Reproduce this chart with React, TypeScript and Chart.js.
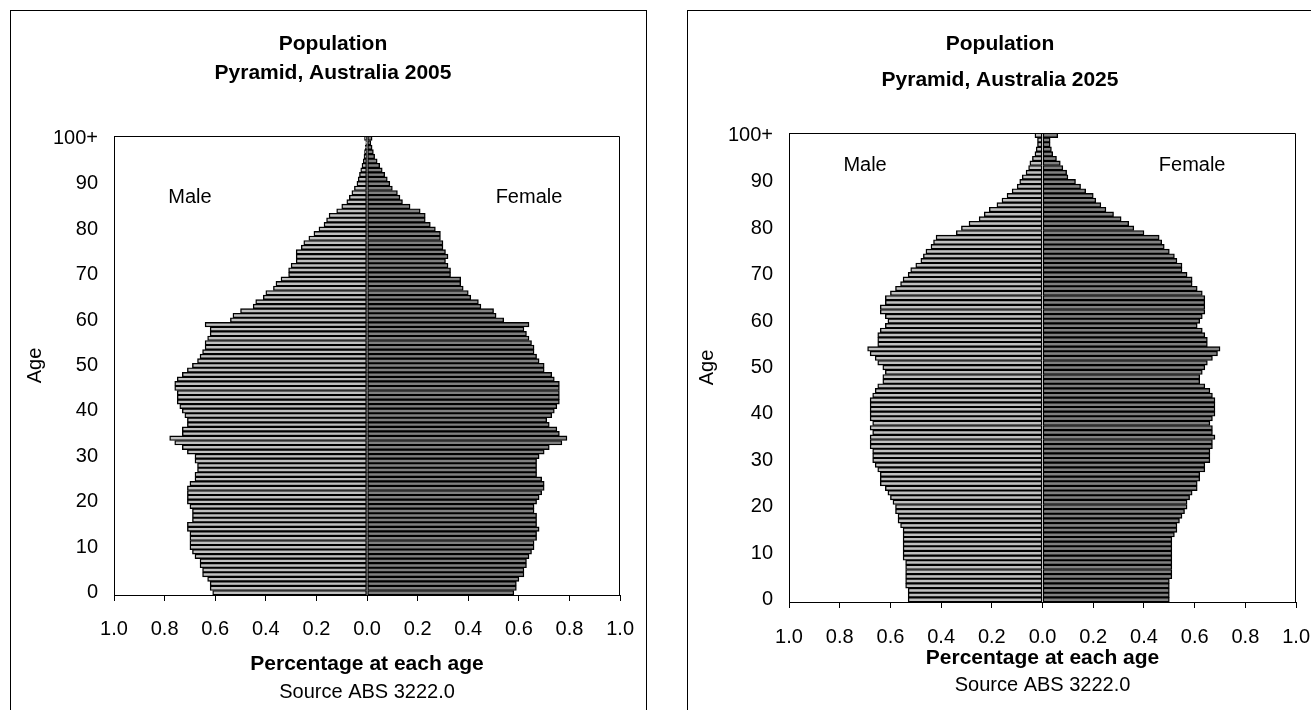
import React, { useEffect, useRef } from 'react';
import { Chart, registerables } from 'chart.js';

Chart.register(...registerables);
Chart.defaults.font.family = 'Arial, "Liberation Sans", sans-serif';
Chart.defaults.color = '#000';

// Age categories 0..99 and "100+"
const AGE_LABELS: string[] = Array.from({ length: 101 }, (_, i) => (i === 100 ? '100+' : String(i)));

// Percentage of population at each single year of age (ages 0 .. 100+)
const MALE_2005 = [
  0.61, 0.62, 0.62, 0.63, 0.65, 0.65, 0.66, 0.66, 0.68, 0.69,
  0.70, 0.70, 0.70, 0.70, 0.71, 0.71, 0.69, 0.69, 0.69, 0.70,
  0.71, 0.71, 0.71, 0.71, 0.70, 0.68, 0.68, 0.67, 0.67, 0.68,
  0.68, 0.71, 0.73, 0.76, 0.78, 0.73, 0.73, 0.71, 0.71, 0.72,
  0.73, 0.74, 0.75, 0.75, 0.75, 0.76, 0.76, 0.75, 0.73, 0.71,
  0.69, 0.67, 0.66, 0.65, 0.64, 0.64, 0.63, 0.62, 0.62, 0.64,
  0.54, 0.53, 0.50, 0.45, 0.44, 0.41, 0.40, 0.37, 0.36, 0.34,
  0.31, 0.31, 0.30, 0.28, 0.28, 0.28, 0.26, 0.25, 0.23, 0.21,
  0.19, 0.17, 0.16, 0.15, 0.12, 0.10, 0.08, 0.07, 0.06, 0.05,
  0.04, 0.035, 0.03, 0.025, 0.02, 0.015, 0.012, 0.01, 0.007, 0.005,
  0.01,
];
const FEMALE_2005 = [
  0.58, 0.59, 0.59, 0.60, 0.62, 0.62, 0.63, 0.63, 0.64, 0.65,
  0.66, 0.66, 0.67, 0.67, 0.68, 0.67, 0.67, 0.67, 0.66, 0.66,
  0.67, 0.68, 0.69, 0.70, 0.70, 0.69, 0.67, 0.67, 0.67, 0.67,
  0.68, 0.70, 0.72, 0.77, 0.79, 0.76, 0.75, 0.72, 0.71, 0.73,
  0.74, 0.75, 0.76, 0.76, 0.76, 0.76, 0.76, 0.74, 0.73, 0.70,
  0.70, 0.68, 0.67, 0.66, 0.66, 0.65, 0.64, 0.63, 0.62, 0.64,
  0.54, 0.51, 0.50, 0.45, 0.44, 0.41, 0.40, 0.38, 0.37, 0.37,
  0.33, 0.33, 0.32, 0.31, 0.32, 0.31, 0.30, 0.30, 0.29, 0.29,
  0.27, 0.25, 0.23, 0.23, 0.21, 0.17, 0.14, 0.13, 0.12, 0.10,
  0.09, 0.08, 0.07, 0.06, 0.05, 0.04, 0.03, 0.025, 0.02, 0.015,
  0.02,
];
const MALE_2025 = [
  0.53, 0.53, 0.53, 0.54, 0.54, 0.54, 0.54, 0.54, 0.54, 0.55,
  0.55, 0.55, 0.55, 0.55, 0.55, 0.55, 0.56, 0.57, 0.57, 0.58,
  0.58, 0.59, 0.60, 0.61, 0.62, 0.64, 0.64, 0.64, 0.65, 0.66,
  0.67, 0.67, 0.67, 0.68, 0.68, 0.68, 0.67, 0.68, 0.67, 0.68,
  0.68, 0.68, 0.68, 0.68, 0.67, 0.66, 0.65, 0.63, 0.63, 0.62,
  0.63, 0.65, 0.66, 0.68, 0.69, 0.65, 0.65, 0.65, 0.64, 0.62,
  0.61, 0.62, 0.64, 0.64, 0.62, 0.62, 0.60, 0.58, 0.56, 0.55,
  0.53, 0.52, 0.50, 0.48, 0.47, 0.46, 0.44, 0.43, 0.42, 0.34,
  0.32, 0.29, 0.25, 0.23, 0.21, 0.18, 0.16, 0.14, 0.12, 0.10,
  0.09, 0.08, 0.065, 0.055, 0.05, 0.04, 0.03, 0.025, 0.02, 0.02,
  0.03,
];
const FEMALE_2025 = [
  0.50, 0.50, 0.50, 0.50, 0.50, 0.51, 0.51, 0.51, 0.51, 0.51,
  0.51, 0.51, 0.51, 0.51, 0.52, 0.53, 0.53, 0.54, 0.55, 0.56,
  0.57, 0.57, 0.58, 0.59, 0.61, 0.61, 0.62, 0.62, 0.64, 0.64,
  0.66, 0.66, 0.66, 0.67, 0.67, 0.68, 0.67, 0.67, 0.66, 0.67,
  0.68, 0.68, 0.68, 0.68, 0.67, 0.66, 0.64, 0.62, 0.62, 0.63,
  0.64, 0.65, 0.67, 0.69, 0.70, 0.65, 0.65, 0.64, 0.63, 0.61,
  0.62, 0.63, 0.64, 0.64, 0.64, 0.64, 0.63, 0.61, 0.59, 0.59,
  0.57, 0.55, 0.55, 0.53, 0.52, 0.50, 0.48, 0.47, 0.46, 0.40,
  0.36, 0.34, 0.31, 0.28, 0.25, 0.23, 0.21, 0.20, 0.17, 0.15,
  0.13, 0.10, 0.095, 0.08, 0.07, 0.055, 0.04, 0.035, 0.03, 0.03,
  0.06,
];

const X_MIN = -1.0;
const X_MAX = 1.0;
const X_STEP = 0.2;

const FONT = 'Arial, "Liberation Sans", sans-serif';

type Layout = {
  year: string;
  male: number[];
  female: number[];
  width: number;
  left: number;
  padLeft: number;
  padRight: number;
  yAxisWidth: number;
  titleLineHeight: number;
  titlePadTop: number;
  titlePadBottom: number;
  xAxisHeight: number;
  tickPad: number;
  sourceHeight: number;
  sourcePadBottom: number;
  ageTitlePad: number;
  maleLabel: { x: number; y: number };
  femaleLabel: { x: number; y: number };
};

const framePlugin = {
  id: 'frame',
  afterDatasetsDraw(chart: any, _args: any, opts: any) {
    const { ctx, chartArea: a, scales } = chart;
    ctx.save();
    ctx.strokeStyle = '#000';
    ctx.lineWidth = 1;
    const l = Math.round(a.left) + 0.5;
    const t = Math.round(a.top) + 0.5;
    const r = Math.round(a.right) - 0.5;
    ctx.beginPath();
    ctx.moveTo(l, t);
    ctx.lineTo(r, t);
    ctx.lineTo(r, Math.round(a.bottom));
    ctx.stroke();
    ctx.font = `20px ${FONT}`;
    ctx.fillStyle = '#000';
    ctx.textAlign = 'center';
    ctx.textBaseline = 'middle';
    for (const lab of opts.labels || []) {
      ctx.fillText(lab.text, scales.x.getPixelForValue(lab.x), scales.y.getPixelForValue(lab.y));
    }
    ctx.restore();
  },
};

function Pyramid({ cfg }: { cfg: Layout }) {
  const ref = useRef<HTMLCanvasElement | null>(null);
  useEffect(() => {
    if (!ref.current) return;
    const chart = new Chart(ref.current, {
      type: 'bar',
      data: {
        labels: AGE_LABELS,
        datasets: [
          {
            label: 'Male',
            data: cfg.male.map((v) => -v),
            backgroundColor: '#c0c0c0',
            borderColor: '#000',
            borderWidth: 1.4,
            borderSkipped: false,
            barPercentage: 1,
            categoryPercentage: 1,
          },
          {
            label: 'Female',
            data: cfg.female,
            backgroundColor: '#808080',
            borderColor: '#000',
            borderWidth: 1.4,
            borderSkipped: false,
            barPercentage: 1,
            categoryPercentage: 1,
          },
        ],
      },
      options: {
        indexAxis: 'y',
        animation: false,
        responsive: false,
        devicePixelRatio: 1,
        layout: { padding: { left: cfg.padLeft, right: cfg.padRight, top: 0, bottom: 0 } },
        plugins: {
          legend: { display: false },
          tooltip: { enabled: false },
          title: {
            display: true,
            text: ['Population', `Pyramid, Australia ${cfg.year}`],
            color: '#000',
            font: { size: 21, weight: 'bold', lineHeight: cfg.titleLineHeight / 21 },
            padding: { top: cfg.titlePadTop, bottom: cfg.titlePadBottom },
          },
          frame: {
            labels: [
              { text: 'Male', x: cfg.maleLabel.x, y: cfg.maleLabel.y },
              { text: 'Female', x: cfg.femaleLabel.x, y: cfg.femaleLabel.y },
            ],
          },
        } as any,
        scales: {
          x: {
            type: 'linear',
            position: 'bottom',
            stacked: true,
            min: X_MIN,
            max: X_MAX,
            grid: { display: true, drawOnChartArea: false, drawTicks: true, tickLength: 6, color: '#000' },
            border: { display: true, color: '#000', width: 1 },
            ticks: {
              stepSize: X_STEP,
              padding: cfg.tickPad,
              color: '#000',
              font: { size: 20 },
              maxRotation: 0,
              callback: (v: any) => Math.abs(Number(v)).toFixed(1),
            },
            title: {
              display: true,
              text: 'Percentage at each age',
              color: '#000',
              font: { size: 21, weight: 'bold' },
              padding: { top: 0, bottom: 2.4 },
            },
            afterFit: (s: any) => {
              s.height = cfg.xAxisHeight;
            },
          },
          x2: {
            type: 'linear',
            position: 'bottom',
            min: 0,
            max: 1,
            grid: { display: false },
            border: { display: false },
            ticks: { display: false },
            title: {
              display: true,
              text: 'Source ABS 3222.0',
              color: '#000',
              font: { size: 20 },
              padding: { top: 0, bottom: cfg.sourcePadBottom },
            },
            afterFit: (s: any) => {
              s.height = cfg.sourceHeight;
            },
          },
          y: {
            type: 'category',
            reverse: true,
            offset: true,
            stacked: true,
            grid: { display: false },
            border: { display: true, color: '#000', width: 1 },
            ticks: {
              autoSkip: false,
              padding: 8,
              color: '#000',
              font: { size: 20 },
              callback: (_v: any, i: number) => (i % 10 === 0 ? AGE_LABELS[i] : null),
            },
            title: {
              display: true,
              text: 'Age',
              color: '#000',
              font: { size: 20 },
              padding: { top: cfg.ageTitlePad, bottom: 0 },
            },
            afterFit: (s: any) => {
              s.width = cfg.yAxisWidth;
            },
          },
        } as any,
      },
      plugins: [framePlugin],
    } as any);
    return () => chart.destroy();
  }, [cfg]);
  return (
    <canvas
      ref={ref}
      width={cfg.width}
      height={698}
      style={{ position: 'absolute', left: cfg.left, top: 11, width: cfg.width, height: 698 }}
    />
  );
}

const LEFT: Layout = {
  year: '2005',
  male: MALE_2005,
  female: FEMALE_2005,
  width: 639,
  left: 11,
  padLeft: 10,
  padRight: 5,
  yAxisWidth: 93,
  titleLineHeight: 29,
  titlePadTop: 18.5,
  titlePadBottom: 48.5,
  xAxisHeight: 84,
  tickPad: 16,
  sourceHeight: 30,
  sourcePadBottom: 5,
  ageTitlePad: 2,
  maleLabel: { x: -0.7, y: 87 },
  femaleLabel: { x: 0.64, y: 87 },
};

const RIGHT: Layout = {
  year: '2025',
  male: MALE_2025,
  female: FEMALE_2025,
  width: 639,
  left: 688,
  padLeft: 0,
  padRight: 15,
  yAxisWidth: 101,
  titleLineHeight: 36,
  titlePadTop: 15,
  titlePadBottom: 35,
  xAxisHeight: 71,
  tickPad: 17,
  sourceHeight: 36,
  sourcePadBottom: 12,
  ageTitlePad: 7,
  maleLabel: { x: -0.7, y: 93.4 },
  femaleLabel: { x: 0.59, y: 93.4 },
};

export default function App() {
  return (
    <div
      style={{
        position: 'fixed',
        left: 0,
        top: 0,
        width: 1311,
        height: 710,
        overflow: 'hidden',
        background: '#fff',
      }}
    >
      <div
        style={{
          position: 'absolute',
          left: 10,
          top: 10,
          width: 637,
          height: 760,
          border: '1px solid #000',
          boxSizing: 'border-box',
        }}
      />
      <div
        style={{
          position: 'absolute',
          left: 687,
          top: 10,
          width: 700,
          height: 760,
          border: '1px solid #000',
          boxSizing: 'border-box',
        }}
      />
      <Pyramid cfg={LEFT} />
      <Pyramid cfg={RIGHT} />
    </div>
  );
}
